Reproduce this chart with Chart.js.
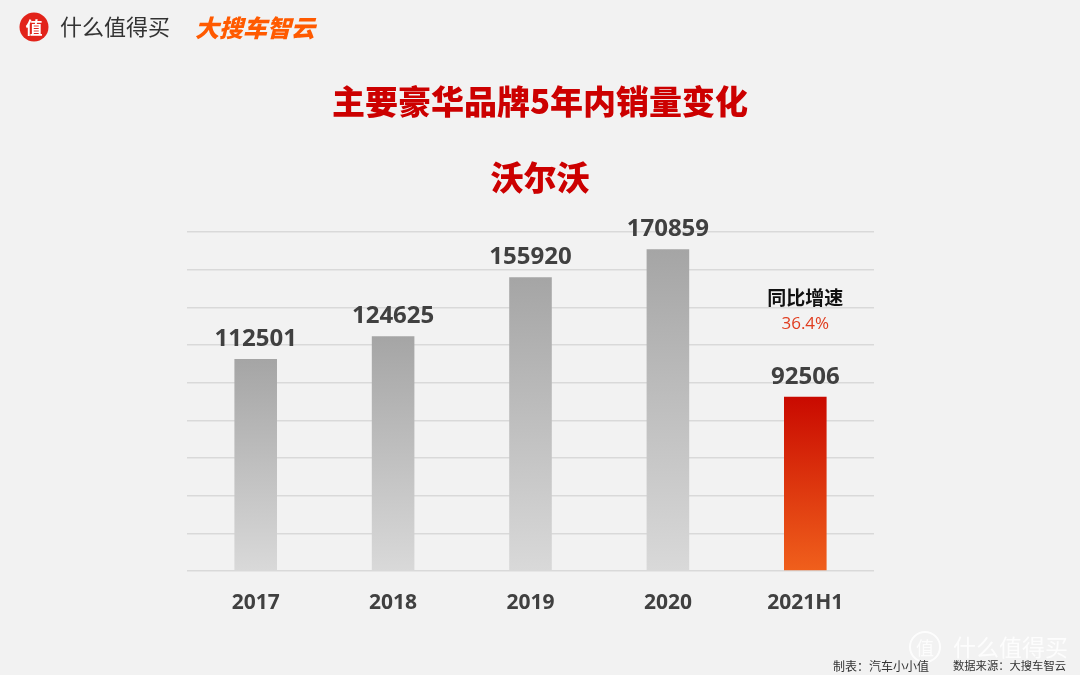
<!DOCTYPE html>
<html>
<head>
<meta charset="utf-8">
<script src="https://cdn.jsdelivr.net/npm/chart.js@4.4.1/dist/chart.umd.min.js"></script>
<style>
  html, body { margin: 0; padding: 0; background: #f2f2f2; }
  #wrap { position: relative; width: 1080px; height: 675px; }
  canvas { display: block; }
</style>
</head>
<body>
<div id="wrap"><canvas id="c" width="1080" height="675"></canvas></div>
<script>
const categories = ['2017', '2018', '2019', '2020', '2021H1'];
const sales = [112501, 124625, 155920, 170859, 92506];
const yTicks = [0, 20000, 40000, 60000, 80000, 100000, 120000, 140000, 160000, 180000];
const titleText = '主要豪华品牌5年内销量变化';
const brandText = '沃尔沃';
const growthLabel = '同比增速';
const growthValue = '36.4%';
const footerLeft = '制表：汽车小小值';
const footerRight = '数据来源：大搜车智云';

const CJK = '"Noto Sans CJK SC", "Noto Sans", sans-serif';
const NUM = '"Open Sans", "Noto Sans", sans-serif';

function barGradient(ctx) {
  const chart = ctx.chart;
  const ys = chart.scales && chart.scales.y;
  if (!chart.chartArea || !ys || ctx.type !== 'data') return '#cccccc';
  const top = ys.getPixelForValue(ctx.raw);
  const base = ys.getPixelForValue(0);
  const g = chart.ctx.createLinearGradient(0, top, 0, base);
  if (ctx.dataIndex === categories.length - 1) {
    g.addColorStop(0, '#c90a00');
    g.addColorStop(1, '#f0601c');
  } else {
    g.addColorStop(0, '#a5a5a5');
    g.addColorStop(1, '#d9d9d9');
  }
  return g;
}

const decorPlugin = {
  id: 'decor',
  beforeDraw(chart) {
    const c = chart.ctx;
    c.save();
    c.fillStyle = '#f2f2f2';
    c.fillRect(0, 0, chart.width, chart.height);
    // top-left logo
    c.beginPath();
    c.arc(34, 27, 14.5, 0, Math.PI * 2);
    c.fillStyle = '#e2231a';
    c.fill();
    c.fillStyle = '#ffffff';
    c.font = 'bold 17px ' + CJK;
    c.textAlign = 'center';
    c.textBaseline = 'middle';
    c.fillText('值', 34, 28);
    c.fillStyle = '#333333';
    c.font = '22px ' + CJK;
    c.textAlign = 'left';
    c.fillText('什么值得买', 60, 27);
    c.fillStyle = '#ff5a00';
    c.font = 'italic 900 24px ' + CJK;
    c.fillText('大搜车智云', 195, 28);
    // titles
    c.textAlign = 'center';
    c.fillStyle = '#cc0000';
    c.font = '900 33px ' + CJK;
    c.fillText(titleText, 540, 101);
    c.fillText(brandText, 540, 177);
    // watermark
    c.globalAlpha = 0.85;
    c.strokeStyle = '#ffffff';
    c.lineWidth = 2;
    c.beginPath();
    c.arc(925, 647, 15, 0, Math.PI * 2);
    c.stroke();
    c.fillStyle = '#ffffff';
    c.font = '18px ' + CJK;
    c.fillText('值', 925, 648);
    c.font = '23px ' + CJK;
    c.textAlign = 'left';
    c.fillText('什么值得买', 953, 647);
    c.globalAlpha = 1;
    // footer
    c.fillStyle = '#333333';
    c.font = '12px ' + CJK;
    c.fillText(footerLeft, 833, 666);
    c.font = '11.3px ' + CJK;
    c.fillText(footerRight, 953, 666);
    c.restore();
  },
  afterDatasetsDraw(chart) {
    const c = chart.ctx;
    const meta = chart.getDatasetMeta(0);
    c.save();
    c.textAlign = 'center';
    c.textBaseline = 'alphabetic';
    c.fillStyle = '#404040';
    c.font = 'bold 24px ' + NUM;
    meta.data.forEach((bar, i) => {
      c.fillText(String(sales[i]), bar.x, bar.y - 13);
    });
    const last = meta.data[meta.data.length - 1];
    c.textBaseline = 'middle';
    c.fillStyle = '#111111';
    c.font = 'bold 19px ' + CJK;
    c.fillText(growthLabel, last.x, 298);
    c.fillStyle = '#e03c1e';
    c.font = '17px ' + NUM;
    c.fillText(growthValue, last.x, 324);
    c.restore();
  }
};

new Chart(document.getElementById('c'), {
  type: 'bar',
  data: {
    labels: categories,
    datasets: [{
      data: sales,
      backgroundColor: barGradient,
      borderWidth: 0,
      barPercentage: 0.31,
      categoryPercentage: 1.0
    }]
  },
  options: {
    responsive: false,
    animation: false,
    devicePixelRatio: 1,
    layout: { padding: { left: 187, right: 206, top: 232, bottom: 0 } },
    plugins: { legend: { display: false }, tooltip: { enabled: false } },
    scales: {
      x: {
        grid: { display: false, drawTicks: false },
        border: { display: false },
        ticks: {
          color: '#404040',
          font: { family: NUM, size: 21, weight: 'bold' },
          padding: 19
        },
        afterFit(scale) { scale.height = 104; }
      },
      y: {
        min: 0,
        max: yTicks[yTicks.length - 1],
        afterBuildTicks(scale) { scale.ticks = yTicks.map(v => ({ value: v })); },
        grid: { color: '#d9d9d9', lineWidth: 1.5, drawTicks: false },
        border: { display: false },
        ticks: { display: false },
        afterFit(scale) { scale.width = 0; }
      }
    }
  },
  plugins: [decorPlugin]
});
</script>
</body>
</html>
